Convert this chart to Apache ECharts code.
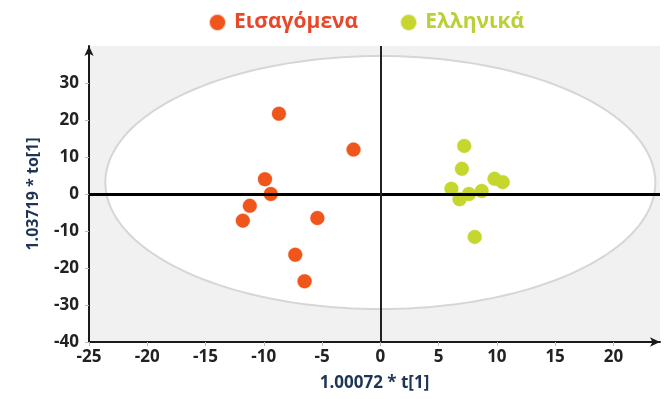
<!DOCTYPE html>
<html>
<head>
<meta charset="utf-8">
<script src="https://cdn.jsdelivr.net/npm/echarts@6/dist/echarts.min.js"></script>
<style>
  html, body { margin: 0; padding: 0; background: #ffffff; }
  #chart { width: 666px; height: 399px; }
</style>
</head>
<body>
<div id="chart"></div>
<script>
// Score plot: predictive component t[1] vs orthogonal component to[1]
const groupNames = ['Εισαγόμενα', 'Ελληνικά'];

const importedT  = [-8.7, -2.3, -9.9, -9.4, -11.2, -11.8, -5.4, -7.3, -6.5];
const importedTo = [21.7, 12.0, 4.0, 0.0, -3.2, -7.2, -6.5, -16.4, -23.6];

const greekT  = [7.2, 7.0, 6.1, 6.8, 7.6, 8.7, 9.8, 10.5, 8.1];
const greekTo = [13.0, 6.8, 1.4, -1.4, 0.0, 0.8, 4.1, 3.2, -11.6];

const xTicks = [-25, -20, -15, -10, -5, 0, 5, 10, 15, 20];
const yTicks = [-40, -30, -20, -10, 0, 10, 20, 30];

// Hotelling T2 ellipse (centre and semi-axes in score units)
const ellipseCenter = [0, 3.1];
const ellipseRadii = [23.6, 34.2];

const colors = ['#f0561c', '#c5d72e'];
const textFont = '"Open Sans", "DejaVu Sans", sans-serif';

function zip(a, b) { return a.map((v, i) => [v, b[i]]); }

const chart = echarts.init(document.getElementById('chart'), null, { renderer: 'canvas' });

chart.setOption({
  animation: false,
  backgroundColor: '#ffffff',
  legend: {
    data: [
      { name: groupNames[0], textStyle: { color: '#e8482a' } },
      { name: groupNames[1], textStyle: { color: '#bccf37' } }
    ],
    top: 7,
    left: 204,
    icon: 'circle',
    itemWidth: 15,
    itemHeight: 15,
    itemGap: 42,
    textStyle: { fontFamily: textFont, fontWeight: 'bold', fontSize: 21, padding: [0, 0, 0, 4] }
  },
  grid: {
    left: 89, right: 6, top: 46, bottom: 57,
    show: true, backgroundColor: '#f1f1f1', borderWidth: 0
  },
  xAxis: {
    type: 'value',
    min: -25, max: 24, interval: 5,
    name: '1.00072 * t[1]',
    nameLocation: 'middle',
    nameGap: 33,
    nameTextStyle: { color: '#1e3556', fontFamily: textFont, fontWeight: 'bold', fontSize: 17 },
    axisLine: { show: true, onZero: false, symbol: ['none', 'arrow'], symbolSize: [7, 10],
      lineStyle: { color: '#1a1a1a', width: 2 } },
    axisTick: { show: true, length: 4, lineStyle: { color: '#bbbbbb' } },
    splitLine: { show: false },
    axisLabel: {
      color: '#222222', fontFamily: textFont, fontWeight: 'bold', fontSize: 17, margin: 7,
      showMaxLabel: false,
      formatter: v => (xTicks.indexOf(v) >= 0 ? String(v) : '')
    }
  },
  yAxis: {
    type: 'value',
    min: -40, max: 40, interval: 10,
    name: '1.03719 * to[1]',
    nameLocation: 'middle',
    nameGap: 48,
    nameTextStyle: { color: '#1e3556', fontFamily: textFont, fontWeight: 'bold', fontSize: 16 },
    axisLine: { show: true, onZero: false, symbol: ['none', 'arrow'], symbolSize: [7, 10],
      lineStyle: { color: '#1a1a1a', width: 2 } },
    axisTick: { show: true, length: 4, lineStyle: { color: '#bbbbbb' } },
    splitLine: { show: false },
    axisLabel: {
      color: '#222222', fontFamily: textFont, fontWeight: 'bold', fontSize: 17, margin: 10,
      showMaxLabel: false,
      formatter: v => (yTicks.indexOf(v) >= 0 ? String(v) : '')
    }
  },
  series: [
    {
      // confidence ellipse
      type: 'custom',
      name: 'ellipse',
      silent: true,
      z: 1,
      data: [[ellipseCenter[0], ellipseCenter[1]]],
      renderItem: function (params, api) {
        const pts = [];
        const n = 180;
        for (let i = 0; i < n; i++) {
          const a = (i / n) * Math.PI * 2;
          pts.push(api.coord([
            ellipseCenter[0] + ellipseRadii[0] * Math.cos(a),
            ellipseCenter[1] + ellipseRadii[1] * Math.sin(a)
          ]));
        }
        return {
          type: 'polygon',
          shape: { points: pts },
          style: { fill: '#ffffff', stroke: '#d6d6d6', lineWidth: 2 }
        };
      }
    },
    {
      // zero reference lines
      type: 'line',
      name: 'zero',
      silent: true,
      z: 2,
      data: [],
      markLine: {
        silent: true,
        symbol: ['none', 'none'],
        label: { show: false },
        animation: false,
        data: [
          { yAxis: 0, lineStyle: { color: '#000000', width: 3, type: 'solid' } },
          { xAxis: 0, lineStyle: { color: '#222222', width: 2, type: 'solid' } }
        ]
      }
    },
    {
      type: 'scatter',
      name: groupNames[0],
      z: 3,
      symbol: 'circle',
      symbolSize: 14,
      itemStyle: { color: colors[0], opacity: 1, borderColor: 'rgba(240,86,28,0.35)', borderWidth: 1 },
      data: zip(importedT, importedTo)
    },
    {
      type: 'scatter',
      name: groupNames[1],
      z: 3,
      symbol: 'circle',
      symbolSize: 14,
      itemStyle: { color: colors[1], opacity: 1, borderColor: 'rgba(197,215,46,0.35)', borderWidth: 1 },
      data: zip(greekT, greekTo)
    }
  ]
});
</script>
</body>
</html>
